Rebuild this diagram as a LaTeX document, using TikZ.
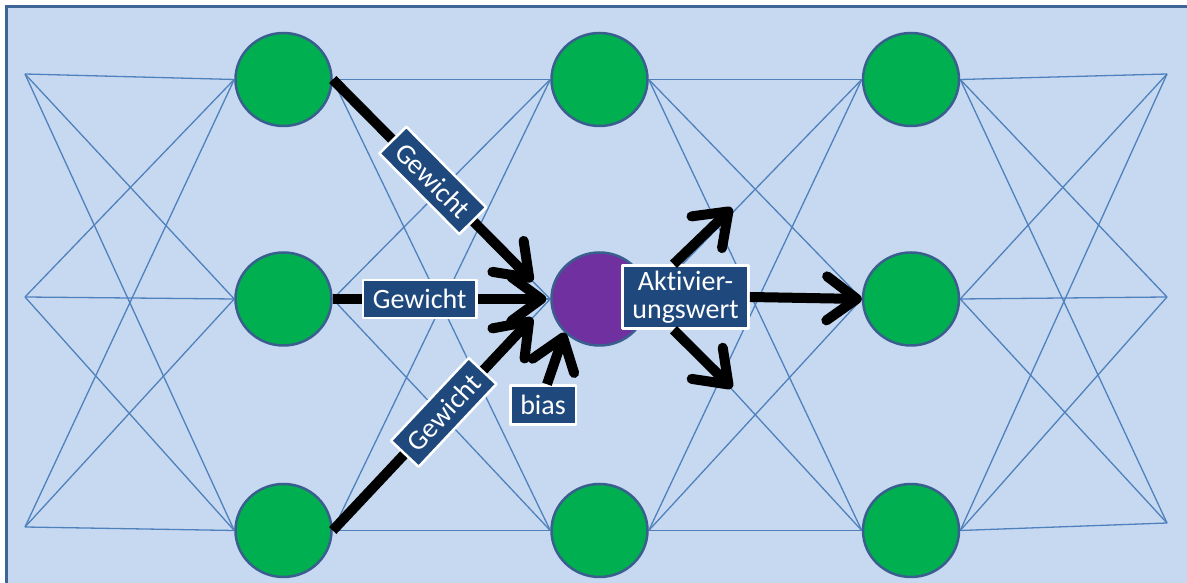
\documentclass[tikz,border=0pt]{standalone}
\usepackage{fontspec}
\setmainfont[Ligatures=NoCommon]{Carlito}
\usetikzlibrary{arrows.meta,positioning,shapes.geometric,backgrounds}
\definecolor{paneblue}{HTML}{C6D9F1}
\definecolor{frameblue}{HTML}{3F6496}
\definecolor{linkblue}{HTML}{4F81BD}
\definecolor{nodegreen}{HTML}{00B050}
\definecolor{nodepurple}{HTML}{7030A0}
\definecolor{labelnavy}{HTML}{1F497D}
\definecolor{rimblue}{HTML}{3A5F8F}
\tikzset{
    every picture/.style={line join=round},
    neuron/.style={ellipse,draw=rimblue,fill=nodegreen,line width=2.5pt,
      minimum width=96pt,minimum height=93pt,inner sep=0pt},
    hot/.style={fill=nodepurple},
    link/.style={draw=linkblue,line width=1.3pt},
    tag/.style={draw=white,fill=labelnavy,text=white,line width=2.5pt,
      inner xsep=10pt,inner ysep=2pt,minimum height=38pt,align=center,
      font=\fontsize{28}{28}\selectfont},
    signal/.style={-{Straight Barb[length=30pt,width=44pt,round]},draw=black,
      line width=10pt}
}

\begin{document}
\begin{tikzpicture}[x=1pt,y=1pt]
  \useasboundingbox (0,0) rectangle (1187,583);
  % three layers of neurons
  \node[neuron] (a1) at (283.5,503.5) {};
  \node[neuron,below=124pt of a1] (a2) {};
  \node[neuron,below=136pt of a2] (a3) {};
  \node[neuron,right=217.5pt of a1] (b1) {};
  \node[neuron,hot,right=217.5pt of a2] (b2) {};
  \node[neuron,right=217.5pt of a3] (b3) {};
  \node[neuron,right=213pt of b1] (c1) {};
  \node[neuron,right=213pt of b2] (c2) {};
  \node[neuron,right=213pt of b3] (c3) {};
  % open ends left and right
  \coordinate (l1) at (25,509);
  \coordinate (l2) at (25,286);
  \coordinate (l3) at (25,56);
  \coordinate (r1) at (1167,509);
  \coordinate (r2) at (1167,286);
  \coordinate (r3) at (1167,60);
  \begin{scope}[on background layer]
    \fill[paneblue,draw=frameblue,line width=3pt] (6,-10) rectangle (1200,576);
    \foreach \i in {1,2,3}{
      \foreach \j in {1,2,3}{
        \draw[link] (l\i) -- (a\j.west);
        \draw[link] (a\i.east) -- (b\j.west);
        \draw[link] (b\i.east) -- (c\j.west);
        \draw[link] (c\i.east) -- (r\j);
      }
    }
  \end{scope}
  % inputs of the purple neuron
  \draw[signal,shorten >=25pt] (a1.east) -- node[tag,sloped,pos=0.46] (w1) {Gewicht} (b2.west);
  \draw[signal,shorten >=4pt] (a2.east) -- node[tag,pos=0.40] (w2) {Gewicht} (b2.west);
  \draw[signal,shorten >=26pt] (a3.east) -- node[tag,sloped,pos=0.51] (w3) {Gewicht} (b2.west);
  \node[tag,minimum height=39pt] (bias) at (543,178) {bias};
  \draw[signal] ([xshift=4pt]bias.north) -- (b2.south west);
  % output
  \node[tag,minimum height=63pt] (act) at (685.5,286) {Aktivier-\\ungswert};
  \coordinate (up) at (732,375);
  \coordinate (down) at (732,195);
  \draw[signal] ([xshift=-12pt]act.north) -- (up);
  \draw[signal] ([xshift=-12pt]act.south) -- (down);
  \draw[signal] (act.east) -- (c2.west);
\end{tikzpicture}
\end{document}
